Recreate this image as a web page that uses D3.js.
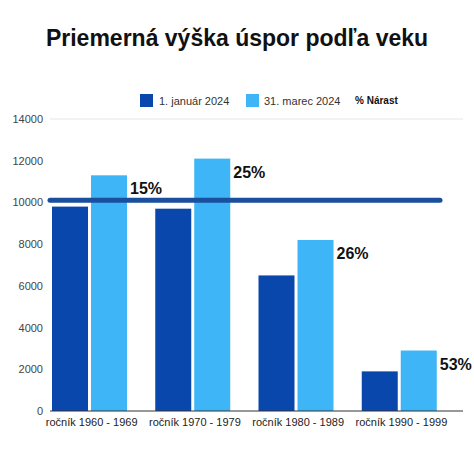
<!DOCTYPE html>
<html><head><meta charset="utf-8">
<script src="https://cdn.jsdelivr.net/npm/d3@7"></script>
<style>body{margin:0;background:#fff}text{font-family:"Liberation Sans",Arial,sans-serif}</style>
</head><body><svg width="474" height="474"></svg>
<script>
var categories = ["ročník 1960 - 1969", "ročník 1970 - 1979", "ročník 1980 - 1989", "ročník 1990 - 1999"];
var jan = [9800, 9700, 6500, 1900];
var mar = [11300, 12100, 8200, 2900];
var growth = ["15%", "25%", "26%", "53%"];
var average = 10100;
var yTicks = [0, 2000, 4000, 6000, 8000, 10000, 12000, 14000];

var svg = d3.select("svg");
var x = d3.scaleBand().domain(categories).range([50, 463]).paddingInner(0).paddingOuter(0);
var y = d3.scaleLinear().domain([0, 14000]).range([411, 119]);
var bw = 36;

svg.append("text").attr("x", 237).attr("y", 46).attr("text-anchor", "middle")
  .attr("font-size", 23).attr("font-weight", "bold").attr("fill", "#111")
  .text("Priemerná výška úspor podľa veku");

// legend
svg.append("rect").attr("x", 140).attr("y", 94).attr("width", 13).attr("height", 13).attr("fill", "#0a47ad");
svg.append("text").attr("x", 159).attr("y", 105).attr("font-size", 11).attr("fill", "#333").text("1. január 2024");
svg.append("rect").attr("x", 246).attr("y", 94).attr("width", 13).attr("height", 13).attr("fill", "#3db5f7");
svg.append("text").attr("x", 264).attr("y", 105).attr("font-size", 11).attr("fill", "#333").text("31. marec 2024");
svg.append("text").attr("x", 355).attr("y", 104).attr("font-size", 10).attr("font-weight", "bold").attr("fill", "#111").text("% Nárast");

svg.append("line").attr("x1", 50).attr("x2", 463).attr("y1", y(14000)).attr("y2", y(14000)).attr("stroke", "#e6e6e6");

var yAxis = svg.append("g").attr("transform", "translate(50,0)")
  .call(d3.axisLeft(y).tickValues(yTicks).tickFormat(d3.format("d")).tickSize(0).tickPadding(7));
yAxis.select(".domain").remove();
yAxis.selectAll("text").attr("font-size", 11).attr("fill", "#444").style("font-family", "Liberation Sans, Arial, sans-serif");

var g = svg.selectAll(".grp").data(categories).enter().append("g");
g.append("rect").attr("x", function(d) { return x(d) + 2; })
  .attr("y", function(d, i) { return y(jan[i]); }).attr("width", bw)
  .attr("height", function(d, i) { return y(0) - y(jan[i]); }).attr("fill", "#0a47ad");
g.append("rect").attr("x", function(d) { return x(d) + 2 + bw + 3; })
  .attr("y", function(d, i) { return y(mar[i]); }).attr("width", bw)
  .attr("height", function(d, i) { return y(0) - y(mar[i]); }).attr("fill", "#3db5f7");
g.append("text").attr("x", function(d) { return x(d) + 2 + 2 * bw + 3 + 3; })
  .attr("y", function(d, i) { return y(mar[i]) + 19; })
  .attr("font-size", 16).attr("font-weight", "bold").attr("fill", "#111")
  .text(function(d, i) { return growth[i]; });

svg.append("line").attr("x1", 50).attr("x2", 440).attr("y1", y(average)).attr("y2", y(average))
  .attr("stroke", "#1a4f9e").attr("stroke-width", 5).attr("stroke-linecap", "round");

svg.append("line").attr("x1", 50).attr("x2", 463).attr("y1", y(0)).attr("y2", y(0)).attr("stroke", "#333");

var xAxis = svg.append("g").attr("transform", "translate(0," + y(0) + ")")
  .call(d3.axisBottom(x).tickSize(0).tickPadding(7));
xAxis.select(".domain").remove();
xAxis.selectAll("text").attr("font-size", 11).attr("fill", "#222").attr("dx", -10).style("font-family", "Liberation Sans, Arial, sans-serif");
</script></body></html>
